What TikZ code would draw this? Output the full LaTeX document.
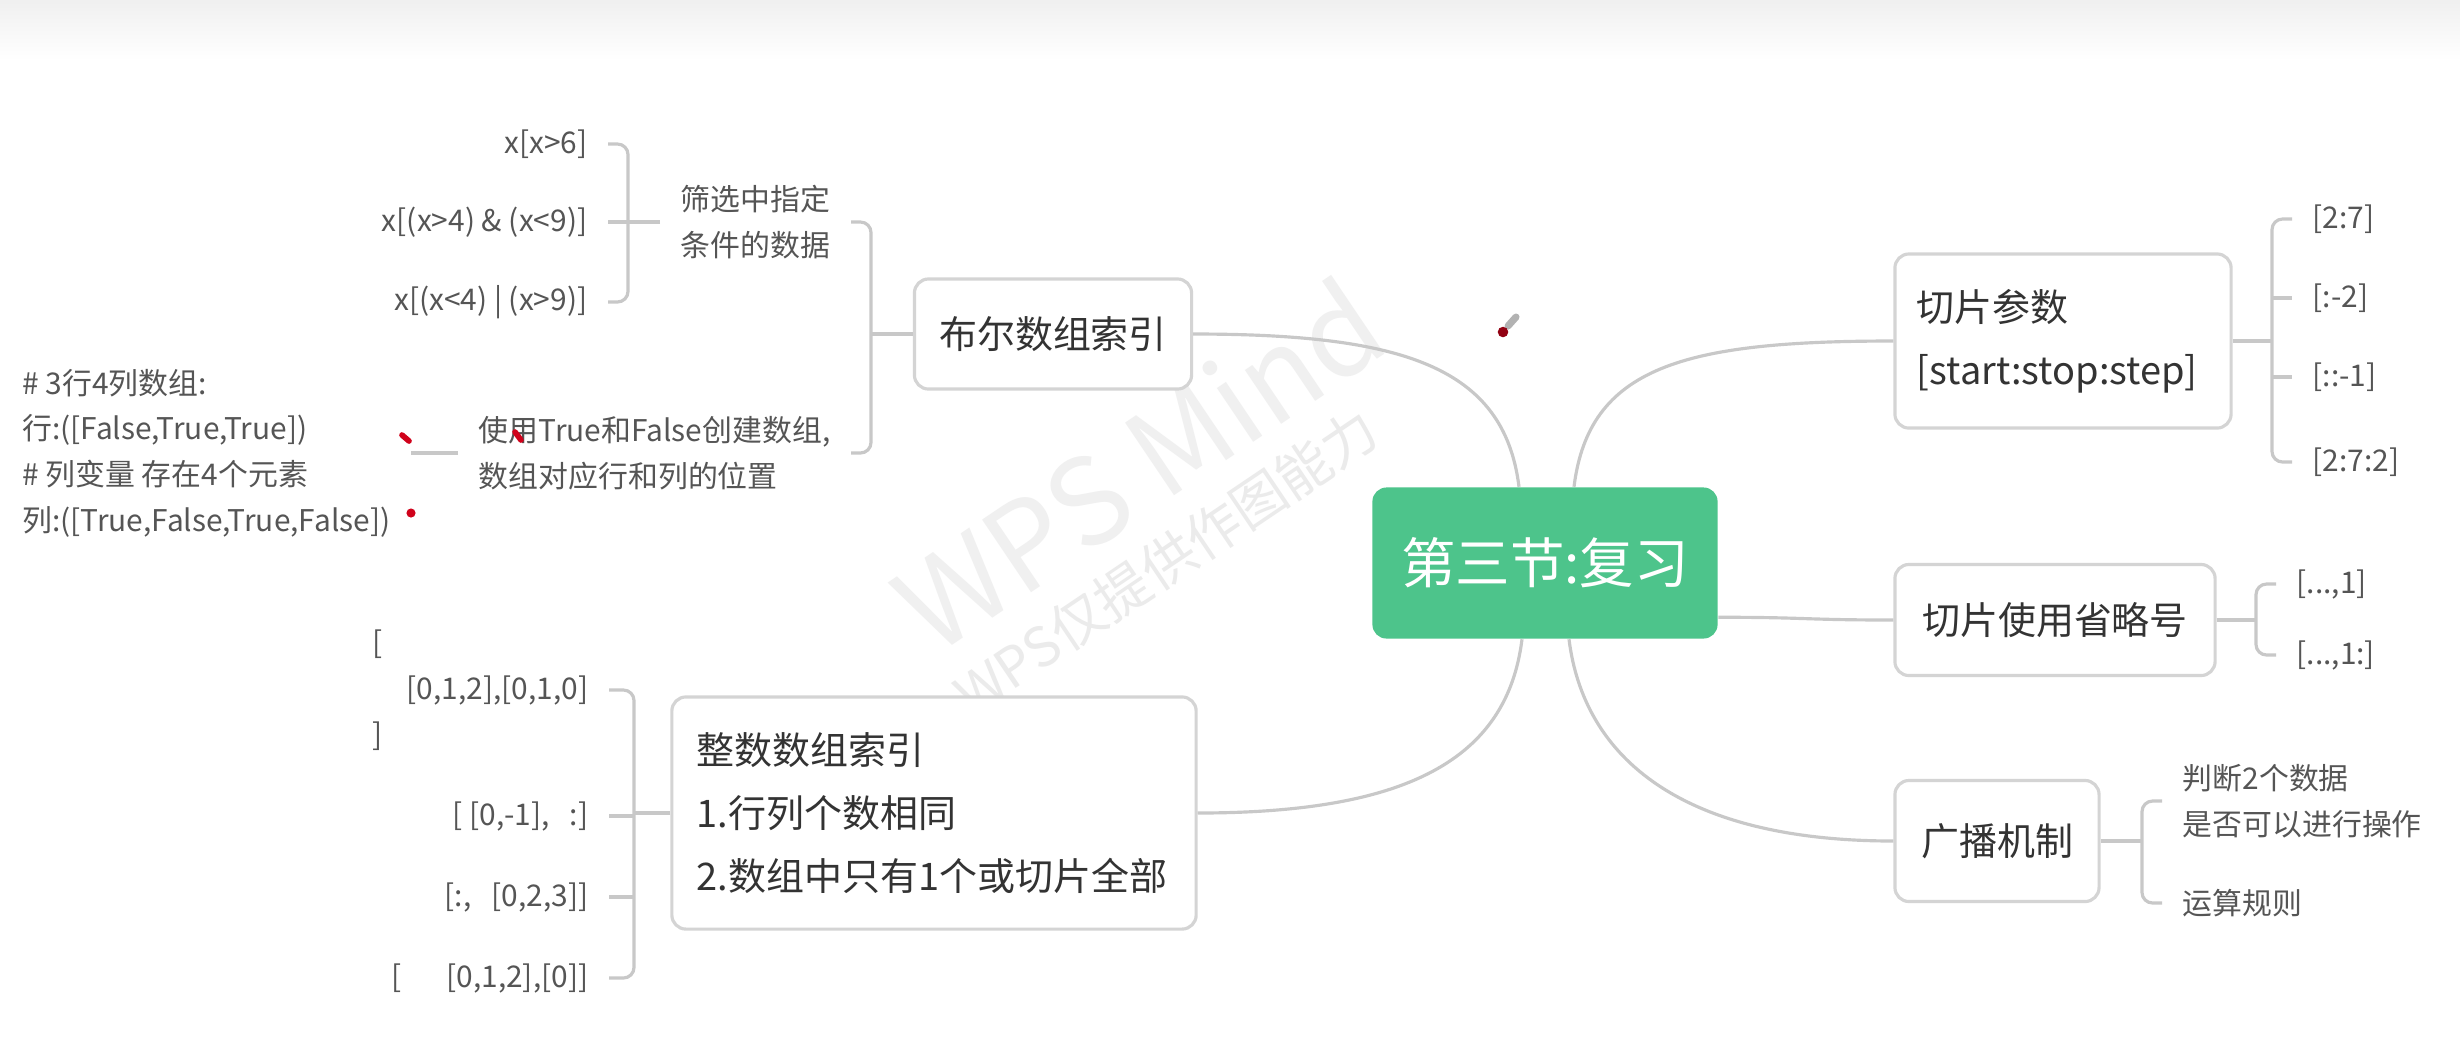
\documentclass[tikz,border=0pt]{standalone}
\usepackage{fontspec}
\setmainfont{Noto Sans CJK SC}
\usepackage{xcolor}
\usepackage{tikz}
\usetikzlibrary{calc,positioning}
\definecolor{rootA}{HTML}{4DC48B}
\definecolor{lineA}{HTML}{C8C8C8}
\definecolor{boxA}{HTML}{D4D4D4}
\definecolor{textA}{HTML}{333333}
\definecolor{leafA}{HTML}{555555}
\definecolor{markA}{HTML}{D0021B}

\begin{document}
\begin{tikzpicture}[x=0.01cm, y=-0.01cm,
    root/.style={fill=rootA, rounded corners=4pt, text=white, inner sep=0pt,
      font=\fontsize{15.5}{18}\selectfont, minimum width=3.45cm, minimum height=1.51cm},
    topic/.style={draw=boxA, line width=0.9pt, rounded corners=4pt, fill=white, text=textA,
      inner sep=0pt, align=left, font=\fontsize{10.8}{18}\selectfont},
    leaf/.style={text=leafA, inner xsep=0.2cm, inner ysep=1pt, align=left,
      font=\fontsize{8.5}{13}\selectfont},
    link/.style={draw=lineA, line width=0.9pt},
    brace/.style={link, rounded corners=3pt}]

  % canvas, with the grey band of the window at the top
  \fill[white] (0,0) rectangle (2460,1041);
  \shade[top color=black!6, bottom color=white] (0,0) rectangle (2460,60);
  \useasboundingbox (0,0) rectangle (2460,1041);

  % watermark
  \node[rotate=34, text=black!6, font=\fontsize{34}{40}\selectfont] (wmA) at (1138,464) {WPS Mind};
  \node[rotate=34, text=black!8, font=\fontsize{15.5}{20}\selectfont] (wmB) at (1166,562) {WPS仅提供作图能力};

  % central topic and its four branches
  \node[root] (root) at (1545,563) {第三节:复习};
  \node[topic, minimum width=2.77cm, minimum height=1.10cm, align=center] (bp) at (1053,334) {布尔数组索引};
  \node[topic, text width=4.74cm, inner xsep=0.25cm, minimum height=2.32cm] (ip) at (934,813)
    {整数数组索引\\1.行列个数相同\\2.数组中只有1个或切片全部};
  \node[topic, text width=2.92cm, inner xsep=0.22cm, minimum height=1.74cm] (sp) at (2063,341)
    {切片参数\\{[start:stop:step]}};
  \node[topic, minimum width=3.20cm, minimum height=1.11cm, align=center] (ep) at (2055,620) {切片使用省略号};
  \node[topic, minimum width=2.04cm, minimum height=1.21cm, align=center] (bc) at (1997,841) {广播机制};

  % where the curves leave the central topic
  \coordinate (rNW) at ($(root.north)+(-26,0)$);
  \coordinate (rNE) at ($(root.north)+(29,0)$);
  \coordinate (rSW) at ($(root.south)+(-23,0)$);
  \coordinate (rSE) at ($(root.south)+(24,0)$);
  \coordinate (rE) at ($(root.south east)+(0,-22)$);

  \draw[link] (rNW) .. controls +(-15,-120) and +(210,0) .. (bp.east);
  \draw[link] (rNE) .. controls +(15,-120) and +(-210,0) .. (sp.west);
  \draw[link] (rSW) .. controls +(-15,120) and +(210,0) .. (ip.east);
  \draw[link] (rSE) .. controls +(15,120) and +(-210,0) .. (bc.west);
  \draw[link] (rE) .. controls +(90,0) and +(-90,0) .. (ep.west);

  % bracket x positions
  \coordinate (bb) at (871,334);
  \coordinate (fb) at (628,222);
  \coordinate (ib) at (634,813);
  \coordinate (sb) at (2272,341);
  \coordinate (eb) at (2256,620);
  \coordinate (kb) at (2142,841);

  % Boolean index
  \node[leaf, anchor=east] (c1) at (851,222) {筛选中指定\\条件的数据};
  \node[leaf, anchor=east] (c2) at (851,453) {使用True和False创建数组,\\数组对应行和列的位置};
  \node[leaf, anchor=east] (x1) at (608,144) {x[x>6]};
  \node[leaf, anchor=east] (x2) at (608,222) {x[(x>4) \& (x<9)]};
  \node[leaf, anchor=east] (x3) at (608,302) {x[(x<4) | (x>9)]};
  \node[leaf, anchor=east] (cm) at (411,453)
    {\# 3行4列数组:\\行:([False,True,True])\\\# 列变量 存在4个元素\\列:([True,False,True,False])};

  \draw[link] (bp.west) -- (bb);
  \draw[brace] (c1.east) -| (bb) |- (c2.east);
  \draw[link] (c1.west) -- (fb);
  \draw[brace] (x1.east) -| (fb) |- (x3.east);
  \draw[link] (fb |- x2.east) -- (x2.east);
  \draw[link] (c2.west) -- (cm.east);

  % integer index
  \node[leaf, anchor=east] (i1) at (609,690) {[\\\hspace*{1.15em}[0,1,2],[0,1,0]\\]};
  \node[leaf, anchor=east] (i2) at (609,816) {[~[0,-1],~~~:]};
  \node[leaf, anchor=east] (i3) at (609,897) {[:,~~~[0,2,3]]};
  \node[leaf, anchor=east] (i4) at (609,978) {[\hspace*{1.5em}[0,1,2],[0]]};

  \draw[link] (ip.west) -- (ib);
  \draw[brace] (i1.east) -| (ib) |- (i4.east);
  \draw[link] (ib |- i2.east) -- (i2.east);
  \draw[link] (ib |- i3.east) -- (i3.east);

  % slice parameters
  \node[leaf, anchor=west] (s1) at (2292,219) {[2:7]};
  \node[leaf, anchor=west] (s2) at (2292,298) {[:-2]};
  \node[leaf, anchor=west] (s3) at (2292,377) {[::-1]};
  \node[leaf, anchor=west] (s4) at (2292,462) {[2:7:2]};

  \draw[link] (sp.east) -- (sb);
  \draw[brace] (s1.west) -| (sb) |- (s4.west);
  \draw[link] (sb |- s2.west) -- (s2.west);
  \draw[link] (sb |- s3.west) -- (s3.west);

  % ellipsis
  \node[leaf, anchor=west] (e1) at (2276,584) {[...,1]};
  \node[leaf, anchor=west] (e2) at (2276,655) {[...,1:]};

  \draw[link] (ep.east) -- (eb);
  \draw[brace] (e1.west) -| (eb) |- (e2.west);

  % broadcasting
  \node[leaf, anchor=west] (b1) at (2162,801) {判断2个数据\\是否可以进行操作};
  \node[leaf, anchor=west] (b2) at (2162,903) {运算规则};

  \draw[link] (bc.east) -- (kb);
  \draw[brace] (b1.west) -| (kb) |- (b2.west);

  % red pen marks and the cursor
  \draw[markA, line width=1.6pt, line cap=round] (402,435) -- (409,441);
  \draw[markA, line width=1.6pt, line cap=round] (515,432) -- (521,440);
  \fill[markA] (411,513) circle (1.3pt);
  \draw[black!30, line width=2pt, line cap=round] (1508,326) -- (1516,317);
  \fill[markA!70!black] (1503,332) circle (1.5pt);
\end{tikzpicture}
\end{document}
